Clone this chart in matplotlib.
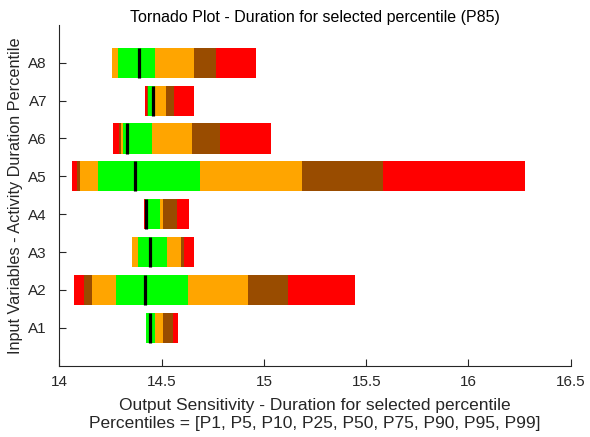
import matplotlib
matplotlib.use("Agg")
import matplotlib.pyplot as plt
import numpy as np

plt.rcParams['font.family'] = ['Liberation Sans', 'DejaVu Sans']

variables = ["A1", "A2", "A3", "A4", "A5", "A6", "A7", "A8"]
percentile_names = ["P1", "P5", "P10", "P25", "P50", "P75", "P90", "P95", "P99"]

# percentile values per variable (P1 .. P99)
A1 = [14.421, 14.422, 14.422, 14.423, 14.445, 14.467, 14.506, 14.556, 14.579]
A2 = [14.071, 14.121, 14.159, 14.276, 14.416, 14.628, 14.922, 15.116, 15.444]
A3 = [14.354, 14.355, 14.356, 14.384, 14.441, 14.528, 14.593, 14.607, 14.656]
A4 = [14.414, 14.416, 14.418, 14.419, 14.421, 14.491, 14.506, 14.573, 14.633]
A5 = [14.061, 14.086, 14.100, 14.188, 14.370, 14.687, 15.184, 15.582, 16.276]
A6 = [14.263, 14.292, 14.299, 14.312, 14.329, 14.451, 14.649, 14.783, 15.034]
A7 = [14.420, 14.428, 14.431, 14.432, 14.457, 14.466, 14.519, 14.561, 14.659]
A8 = [14.255, 14.257, 14.258, 14.286, 14.389, 14.467, 14.658, 14.764, 14.962]
values = [A1, A2, A3, A4, A5, A6, A7, A8]

seg_colors = ["#FF0000", "#994C00", "#FFA500", "#00FF00",
              "#00FF00", "#FFA500", "#994C00", "#FF0000"]

fig = plt.figure(figsize=(5.9, 4.37), dpi=100)
ax = fig.add_axes([0.1008, 0.1636, 0.8665, 0.7792])

h = 0.8
for i, vals in enumerate(values):
    y = i + 1
    for k in range(8):
        ax.barh(y, vals[k + 1] - vals[k], left=vals[k], height=h,
                color=seg_colors[k], edgecolor='none', linewidth=0)
    ax.vlines(vals[4], y - h / 2, y + h / 2, color='black', linewidth=2.3)

ax.set_xlim(14, 16.5)
ax.set_ylim(0, 9)
ax.set_xticks([14, 14.5, 15, 15.5, 16, 16.5])
ax.set_xticklabels(["14", "14.5", "15", "15.5", "16", "16.5"])
ax.set_yticks(range(1, 9))
ax.set_yticklabels(variables)
ax.tick_params(direction='in', length=5, width=0.8, labelsize=11, colors='#262626')
ax.tick_params(axis='x', pad=7)
ax.tick_params(axis='y', pad=9)
for s in ['top', 'right']:
    ax.spines[s].set_visible(False)
for s in ['left', 'bottom']:
    ax.spines[s].set_color('#262626')
    ax.spines[s].set_linewidth(0.8)

ax.set_title("Tornado Plot - Duration for selected percentile (P85)",
             fontsize=11.5, color='black', pad=2)
ax.set_xlabel("Output Sensitivity - Duration for selected percentile\n"
              "Percentiles = [" + ", ".join(percentile_names) + "]",
              fontsize=12.5, color='#262626', linespacing=1.25, labelpad=6)
ax.set_ylabel("Input Variables - Activity Duration Percentile",
              fontsize=11.7, color='#262626', labelpad=4)

fig.savefig("out.png", dpi=100)
